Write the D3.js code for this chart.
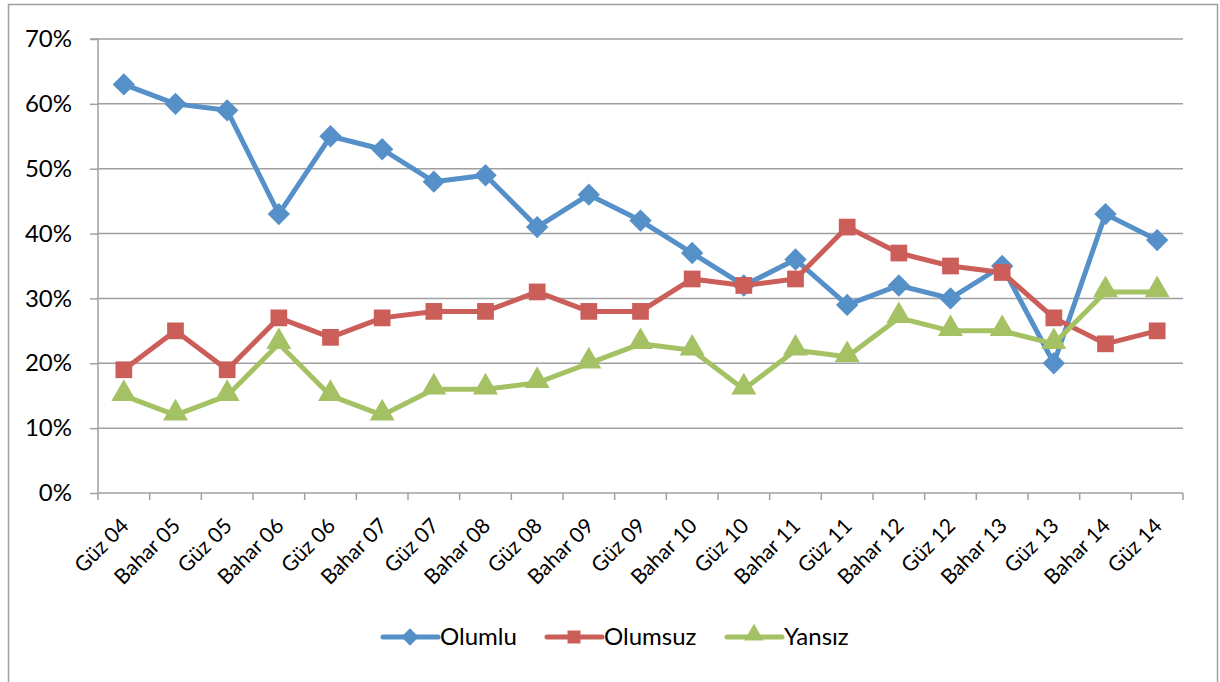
<!DOCTYPE html>
<html>
<head>
<meta charset="utf-8">
<script src="https://cdn.jsdelivr.net/npm/d3@7"></script>
<style>
  body { margin: 0; background: #fff; }
  text { font-family: Lato, "Open Sans", sans-serif; fill: #000; }
</style>
</head>
<body>
<svg id="chart" width="1220" height="682"></svg>
<script>
const categories = ["Güz 04","Bahar 05","Güz 05","Bahar 06","Güz 06","Bahar 07","Güz 07","Bahar 08","Güz 08","Bahar 09","Güz 09","Bahar 10","Güz 10","Bahar 11","Güz 11","Bahar 12","Güz 12","Bahar 13","Güz 13","Bahar 14","Güz 14"];
const olumlu   = [63,60,59,43,55,53,48,49,41,46,42,37,32,36,29,32,30,35,20,43,39];
const olumsuz  = [19,25,19,27,24,27,28,28,31,28,28,33,32,33,41,37,35,34,27,23,25];
const yansiz   = [15,12,15,23,15,12,16,16,17,20,23,22,16,22,21,27,25,25,23,31,31];
const yTicks   = [0,10,20,30,40,50,60,70];

// diamond = square turned 45deg
const series = [
  { name: "Olumlu",  values: olumlu,  color: "#5690C9", symbol: d3.symbolSquare,   size: 250, rot: 45, dy: 0 },
  { name: "Olumsuz", values: olumsuz, color: "#CB5E59", symbol: d3.symbolSquare,   size: 280, rot: 0,  dy: 0 },
  { name: "Yansız",  values: yansiz,  color: "#A4C164", symbol: d3.symbolTriangle, size: 270, rot: 0,  dy: -2 }
];

const svg = d3.select('#chart');

// outer frame
svg.append('rect')
  .attr('x', 8.5).attr('y', 4.5)
  .attr('width', 1209).attr('height', 690)
  .attr('fill', 'none').attr('stroke', '#a0a0a0').attr('stroke-width', 1.5);

const pLeft = 98, pRight = 1183, pTop = 39, pBottom = 493;

const x = d3.scaleBand().domain(categories).range([pLeft, pRight]);
const y = d3.scaleLinear().domain([0, 70]).range([pBottom, pTop]);

// gridlines
svg.append('g')
  .selectAll('line')
  .data(yTicks.filter(d => d > 0))
  .enter().append('line')
  .attr('x1', pLeft).attr('x2', pRight)
  .attr('y1', d => y(d)).attr('y2', d => y(d))
  .attr('stroke', '#a0a0a0').attr('stroke-width', 1.5);

// y axis
const yAxis = svg.append('g')
  .attr('transform', `translate(${pLeft},0)`)
  .call(d3.axisLeft(y).tickValues(yTicks).tickSize(8).tickPadding(18).tickFormat(d => d + '%'));
yAxis.selectAll('path, line').attr('stroke', '#a0a0a0').attr('stroke-width', 1.5);
yAxis.select('.domain').attr('d', `M-8,${pTop}H0V${pBottom}`);
yAxis.selectAll('text').style('font-size', '24px').attr('fill', '#000');

// x axis
const xAxis = svg.append('g')
  .attr('transform', `translate(0,${pBottom})`)
  .call(d3.axisBottom(x).tickSize(0).tickFormat(''));
xAxis.select('.domain').attr('stroke', '#a0a0a0').attr('stroke-width', 1.5).attr('d', `M${pLeft},0H${pRight}`);
xAxis.selectAll('.tick').remove();

// x tick marks at category boundaries
svg.append('g')
  .selectAll('line')
  .data(d3.range(categories.length + 1))
  .enter().append('line')
  .attr('x1', i => pLeft + i * x.bandwidth()).attr('x2', i => pLeft + i * x.bandwidth())
  .attr('y1', pBottom).attr('y2', pBottom + 7)
  .attr('stroke', '#a0a0a0').attr('stroke-width', 1.5);

// x labels
svg.append('g')
  .selectAll('text')
  .data(categories)
  .enter().append('text')
  .attr('transform', d => `translate(${x(d) + x.bandwidth() / 2 + 1},${pBottom + 29}) rotate(-45)`)
  .attr('text-anchor', 'end')
  .attr('dy', '0.35em')
  .style('font-size', '21px')
  .text(d => d);

// lines + markers
const cx = i => x(categories[i]) + x.bandwidth() / 2;
series.forEach(s => {
  svg.append('path')
    .datum(s.values)
    .attr('fill', 'none')
    .attr('stroke', s.color)
    .attr('stroke-width', 5)
    .attr('stroke-linejoin', 'round')
    .attr('d', d3.line().x((d, i) => cx(i)).y(d => y(d)));
  svg.append('g')
    .selectAll('path')
    .data(s.values)
    .enter().append('path')
    .attr('transform', (d, i) => `translate(${cx(i)},${y(d) + s.dy}) rotate(${s.rot})`)
    .attr('d', d3.symbol().type(s.symbol).size(s.size))
    .attr('fill', s.color);
});

// legend
const legendX = [383, 547, 727];
const legendY = 637;
series.forEach((s, i) => {
  const g = svg.append('g').attr('transform', `translate(${legendX[i]},${legendY})`);
  g.append('line')
    .attr('x1', 0).attr('x2', 55)
    .attr('stroke', s.color).attr('stroke-width', 5).attr('stroke-linecap', 'round');
  g.append('path')
    .attr('transform', `translate(27,${s.dy}) rotate(${s.rot})`)
    .attr('d', d3.symbol().type(s.symbol).size(s.size * 0.6))
    .attr('fill', s.color);
  g.append('text')
    .attr('x', 57).attr('dy', '0.35em')
    .style('font-size', '24px')
    .text(s.name);
});
</script>
</body>
</html>
